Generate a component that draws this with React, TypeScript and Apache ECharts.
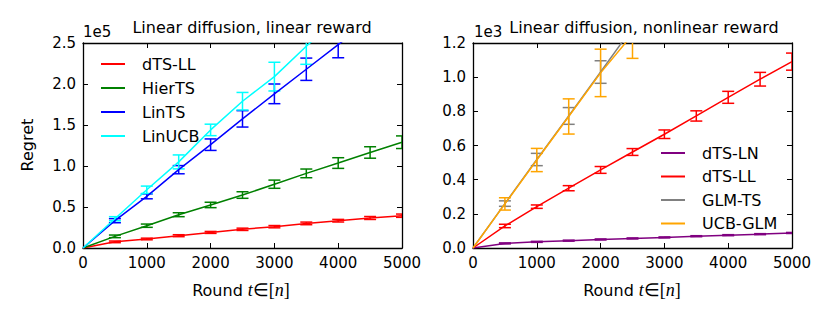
import React, { useEffect, useRef } from "react";
import * as echarts from "echarts";

// Rounds at which points / error bars are recorded
const rounds = [0, 500, 1000, 1500, 2000, 2500, 3000, 3500, 4000, 4500, 5000];

// Left panel: Linear diffusion, linear reward (regret in units of 1e5)
const leftDtsLL = [0, 0.075, 0.11, 0.15, 0.19, 0.228, 0.26, 0.3, 0.333, 0.366, 0.394];
const leftDtsLLErr = [0, 0.01, 0.01, 0.012, 0.012, 0.014, 0.014, 0.016, 0.016, 0.018, 0.02];
const leftHierTS = [0, 0.142, 0.272, 0.406, 0.525, 0.646, 0.778, 0.91, 1.036, 1.165, 1.29];
const leftHierTSErr = [0, 0.016, 0.02, 0.024, 0.033, 0.04, 0.05, 0.053, 0.065, 0.07, 0.077];
const leftLinTS = [0, 0.333, 0.63, 0.955, 1.26, 1.575, 1.88, 2.18, 2.48, 2.78, 3.08];
const leftLinTSErr = [0, 0.025, 0.03, 0.05, 0.07, 0.1, 0.12, 0.136, 0.16, 0.18, 0.2];
const leftLinUCB = [0, 0.357, 0.71, 1.05, 1.44, 1.79, 2.09, 2.46, 2.82, 3.18, 3.54];
const leftLinUCBErr = [0, 0.025, 0.045, 0.085, 0.07, 0.107, 0.175, 0.22, 0.24, 0.26, 0.28];

// Right panel: Linear diffusion, nonlinear reward (regret in units of 1e3)
const rightDtsLN = [0, 0.027, 0.036, 0.043, 0.05, 0.056, 0.062, 0.069, 0.075, 0.081, 0.088];
const rightDtsLNErr = [0, 0.003, 0.003, 0.003, 0.003, 0.003, 0.003, 0.003, 0.003, 0.003, 0.003];
const rightDtsLL = [0, 0.129, 0.242, 0.35, 0.457, 0.562, 0.666, 0.773, 0.882, 0.988, 1.091];
const rightDtsLLErr = [0, 0.01, 0.01, 0.015, 0.02, 0.02, 0.025, 0.03, 0.035, 0.04, 0.05];
const rightGlmTS = [0, 0.26, 0.518, 0.773, 1.03, 1.29, 1.55, 1.81, 2.07, 2.33, 2.59];
const rightGlmTSErr = [0, 0.016, 0.036, 0.049, 0.066, 0.07, 0.08, 0.09, 0.1, 0.11, 0.12];
const rightUcbGlm = [0, 0.258, 0.515, 0.77, 1.025, 1.25, 1.54, 1.8, 2.06, 2.32, 2.58];
const rightUcbGlmErr = [0, 0.036, 0.068, 0.103, 0.139, 0.14, 0.15, 0.16, 0.17, 0.18, 0.19];

const xTicks = { min: 0, max: 5000, interval: 1000 };
const leftY = { min: 0, max: 2.5, interval: 0.5 };
const rightY = { min: 0, max: 1.2, interval: 0.2 };

const FONT = "DejaVu Sans";
const FS = 15; // tick labels
const FT = 16; // titles, legend, axis names

function lineSeries(name: string, color: string, ys: number[], gi: number) {
  return {
    type: "line",
    name,
    xAxisIndex: gi * 2,
    yAxisIndex: gi * 2,
    data: rounds.map((r, i) => [r, ys[i]]),
    symbol: "none",
    showSymbol: false,
    lineStyle: { color, width: 1.5 },
    itemStyle: { color },
    clip: true,
    z: 3,
  };
}

function errSeries(name: string, color: string, ys: number[], es: number[], gi: number) {
  const data: number[][] = [];
  rounds.forEach((r, i) => {
    if (r > 0) data.push([r, ys[i] - es[i], ys[i] + es[i]]);
  });
  return {
    type: "custom",
    name,
    xAxisIndex: gi * 2,
    yAxisIndex: gi * 2,
    data,
    clip: true,
    encode: { x: 0, y: [1, 2] },
    z: 3,
    renderItem: (params: any, api: any) => {
      const x = api.value(0);
      const lo = api.coord([x, api.value(1)]);
      const hi = api.coord([x, api.value(2)]);
      const w = 6;
      const st = { stroke: color, lineWidth: 1.5 };
      return {
        type: "group",
        children: [
          { type: "line", shape: { x1: lo[0], y1: lo[1], x2: hi[0], y2: hi[1] }, style: st },
          { type: "line", shape: { x1: lo[0] - w, y1: lo[1], x2: lo[0] + w, y2: lo[1] }, style: st },
          { type: "line", shape: { x1: hi[0] - w, y1: hi[1], x2: hi[0] + w, y2: hi[1] }, style: st },
        ],
      };
    },
  };
}

function xAxes(gi: number) {
  const base = {
    gridIndex: gi,
    type: "value",
    ...xTicks,
    axisLine: { show: true, onZero: false, lineStyle: { color: "#000", width: 1.3 } },
    axisTick: { show: true, inside: true, length: 5, lineStyle: { color: "#000", width: 1 } },
    splitLine: { show: false },
  };
  return [
    {
      ...base,
      position: "bottom",
      axisLabel: {
        show: true,
        color: "#000",
        fontSize: FS,
        fontFamily: FONT,
        margin: 7,
        formatter: (v: number) => String(v),
      },
    },
    { ...base, position: "top", axisLabel: { show: false } },
  ];
}

function yAxes(gi: number, rng: any) {
  const base = {
    gridIndex: gi,
    type: "value",
    ...rng,
    axisLine: { show: true, onZero: false, lineStyle: { color: "#000", width: 1.3 } },
    axisTick: { show: true, inside: true, length: 5, lineStyle: { color: "#000", width: 1 } },
    splitLine: { show: false },
  };
  return [
    {
      ...base,
      position: "left",
      axisLabel: {
        show: true,
        color: "#000",
        fontSize: FS,
        fontFamily: FONT,
        margin: 7,
        formatter: (v: number) => v.toFixed(1),
      },
    },
    { ...base, position: "right", axisLabel: { show: false } },
  ];
}

const mathRich = {
  a: { fontFamily: FONT, fontSize: FT, color: "#000" },
  m: { fontFamily: "Liberation Serif", fontStyle: "italic", fontSize: 18, color: "#000" },
  s: { fontFamily: "Liberation Serif", fontSize: 18, color: "#000" },
};

function xLabel(cx: number) {
  return {
    type: "text",
    x: cx,
    y: 290,
    style: {
      text: "{a|Round }{m|t}{s|∈[}{m|n}{s|]}",
      rich: mathRich,
      align: "center",
      verticalAlign: "middle",
    },
  };
}

export default function App() {
  const ref = useRef<HTMLDivElement>(null);
  useEffect(() => {
    if (!ref.current) return;
    const chart = echarts.init(ref.current, undefined, { renderer: "svg" });
    const legendText = { color: "#000", fontSize: FT, fontFamily: FONT, padding: [0, 0, 0, 12], lineHeight: 16 };
    chart.setOption({
      animation: false,
      backgroundColor: "#fff",
      grid: [
        { left: 83, top: 43, width: 319, height: 205, show: false },
        { left: 473, top: 43, width: 319, height: 205, show: false },
      ],
      xAxis: [...xAxes(0), ...xAxes(1)],
      yAxis: [...yAxes(0, leftY), ...yAxes(1, rightY)],
      legend: [
        {
          left: 101,
          top: 56,
          padding: 0,
          orient: "vertical",
          icon: "rect",
          itemWidth: 24,
          itemHeight: 2,
          itemGap: 8,
          data: ["dTS-LL", "HierTS", "LinTS", "LinUCB"],
          textStyle: legendText,
          selectedMode: false,
        },
        {
          left: 661,
          top: 145,
          padding: 0,
          orient: "vertical",
          icon: "rect",
          itemWidth: 24,
          itemHeight: 2,
          itemGap: 7.5,
          data: ["dTS-LN", "dTS-LL ", "GLM-TS", "UCB-GLM"],
          textStyle: legendText,
          selectedMode: false,
        },
      ],
      series: [
        lineSeries("dTS-LL", "#ff0000", leftDtsLL, 0),
        errSeries("dTS-LL-err", "#ff0000", leftDtsLL, leftDtsLLErr, 0),
        lineSeries("HierTS", "#008000", leftHierTS, 0),
        errSeries("HierTS-err", "#008000", leftHierTS, leftHierTSErr, 0),
        lineSeries("LinTS", "#0000ff", leftLinTS, 0),
        errSeries("LinTS-err", "#0000ff", leftLinTS, leftLinTSErr, 0),
        lineSeries("LinUCB", "#00ffff", leftLinUCB, 0),
        errSeries("LinUCB-err", "#00ffff", leftLinUCB, leftLinUCBErr, 0),

        lineSeries("dTS-LN", "#800080", rightDtsLN, 1),
        errSeries("dTS-LN-err", "#800080", rightDtsLN, rightDtsLNErr, 1),
        lineSeries("dTS-LL ", "#ff0000", rightDtsLL, 1),
        errSeries("dTS-LL-err2", "#ff0000", rightDtsLL, rightDtsLLErr, 1),
        lineSeries("GLM-TS", "#808080", rightGlmTS, 1),
        errSeries("GLM-TS-err", "#808080", rightGlmTS, rightGlmTSErr, 1),
        lineSeries("UCB-GLM", "#ffa500", rightUcbGlm, 1),
        errSeries("UCB-GLM-err", "#ffa500", rightUcbGlm, rightUcbGlmErr, 1),
      ],
      graphic: [
        { type: "text", x: 252, y: 27, style: { text: "Linear diffusion, linear reward", fontFamily: FONT, fontSize: FT, fill: "#000", align: "center", verticalAlign: "middle" } },
        { type: "text", x: 644, y: 27, style: { text: "Linear diffusion, nonlinear reward", fontFamily: FONT, fontSize: FT, fill: "#000", align: "center", verticalAlign: "middle" } },
        { type: "text", x: 83, y: 32, style: { text: "1e5", fontFamily: FONT, fontSize: FS, fill: "#000", align: "left", verticalAlign: "middle" } },
        { type: "text", x: 474, y: 32, style: { text: "1e3", fontFamily: FONT, fontSize: FS, fill: "#000", align: "left", verticalAlign: "middle" } },
        { type: "text", x: 27, y: 145, rotation: Math.PI / 2, style: { text: "Regret", fontFamily: FONT, fontSize: FT, fill: "#000", align: "center", verticalAlign: "middle" } },
        xLabel(241),
        xLabel(632),
      ],
    });
    return () => chart.dispose();
  }, []);
  return <div ref={ref} style={{ width: 830, height: 332, position: "absolute", left: 0, top: 0 }} />;
}
